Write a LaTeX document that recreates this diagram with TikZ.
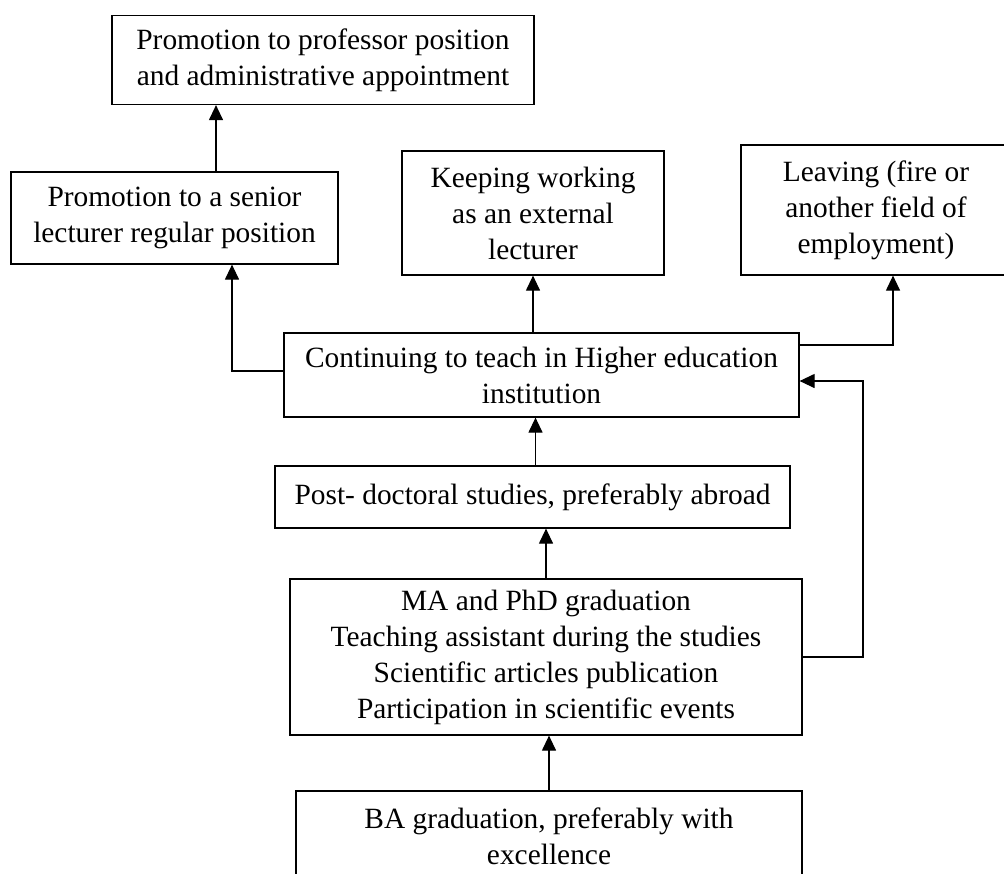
\documentclass[tikz,border=0pt]{standalone}
\usepackage{fontspec}
\setmainfont{Liberation Serif}
\usetikzlibrary{arrows.meta}

\tikzset{
  stage/.style={draw=black,line width=0.6pt,align=center,inner sep=2pt,
    font=\fontsize{14.7}{18}\selectfont},
  arr/.style={line width=0.6pt,-{Triangle[length=7.5pt,width=7pt]}}
}

\begin{document}
\begin{tikzpicture}[x=0.5pt,y=-0.5pt]

        \useasboundingbox (0,0) rectangle (1004,873);
        \clip (0,0) rectangle (1004,873);

        \node[stage,minimum width=211pt,minimum height=44.5pt] (prof) at (323,60) {Promotion to professor position\\and administrative appointment};
        \node[stage,minimum width=163.5pt,minimum height=46pt] (senior) at (174.5,218) {Promotion to a senior\\lecturer regular position};
        \node[stage,minimum width=131pt,minimum height=62pt] (keep) at (533,213) {Keeping working\\as an external\\lecturer};
        \node[stage,minimum width=135pt,minimum height=65pt] (leave) at (876,210) {Leaving (fire or\\another field of\\employment)};
        \node[stage,minimum width=257.5pt,minimum height=42pt] (cont) at (541.5,375) {Continuing to teach in Higher education\\institution};
        \node[stage,minimum width=257.5pt,minimum height=31pt] (post) at (532.5,497) {Post- doctoral studies, preferably abroad};
        \node[stage,minimum width=256pt,minimum height=78pt] (ma) at (546,657) {MA and PhD graduation\\Teaching assistant during the studies\\Scientific articles publication\\Participation in scientific events};
        \node[stage,minimum width=253pt,minimum height=45pt] (ba) at (549,836) {BA graduation, preferably with\\excellence};

        \coordinate (bend) at (863,381);

        \draw[arr] ([xshift=20.75pt]senior.north) -- ([xshift=20.75pt]senior.north |- prof.south);
        \draw[arr] ([yshift=2pt]cont.west) -| ([xshift=28.75pt]senior.south);
        \draw[arr] (cont.north -| keep.south) -- (keep.south);
        \draw[arr] ([yshift=15pt]cont.east) -| ([xshift=8.5pt]leave.south);
        \draw[arr] ([xshift=1.5pt]post.north) -- ([xshift=1.5pt]post.north |- cont.south);
        \draw[arr] (ma.north) -- (ma.north |- post.south);
        \draw[arr] (ba.north) -- (ba.north |- ma.south);
        \draw[arr] (ma.east) -| (bend) -- (bend -| cont.east);

\end{tikzpicture}
\end{document}
